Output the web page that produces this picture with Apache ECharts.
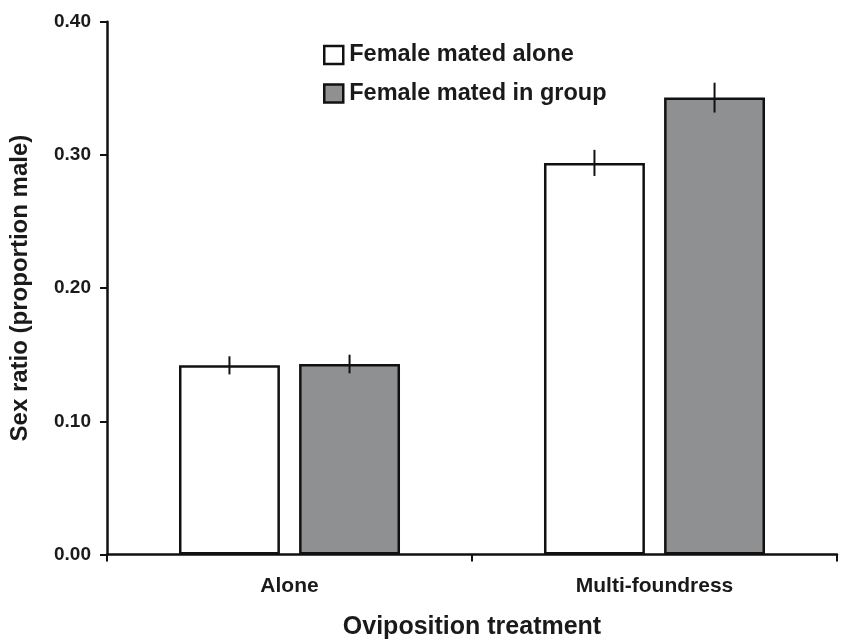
<!DOCTYPE html>
<html>
<head>
<meta charset="utf-8">
<script src="https://cdn.jsdelivr.net/npm/echarts@6/dist/echarts.min.js"></script>
<style>html,body{margin:0;padding:0;background:#fff;}#chart{width:844px;height:639px;}</style>
</head>
<body>
<div id="chart"></div>
<script>
var categories = ['Alone', 'Multi-foundress'];
var seriesNames = ['Female mated alone', 'Female mated in group'];
var aloneMated = [0.142, 0.294];
var groupMated = [0.143, 0.343];
var aloneErr = [0.0068, 0.0098];
var groupErr = [0.0070, 0.0112];
var yTicks = [0, 0.1, 0.2, 0.3, 0.4];

var FONT = '"Liberation Sans", Arial, sans-serif';
var TXT = '#1a1a1a';
var BARW = 0.2765, GAP = 0.19;

function errSeries(name, values, errs, sign) {
  return {
    type: 'custom',
    name: name + ' err',
    silent: true,
    z: 5,
    data: values.map(function (v, i) { return [i, v, errs[i]]; }),
    renderItem: function (params, api) {
      var band = api.size([1, 0])[0];
      var off = sign * band * BARW * (1 + GAP) / 2;
      var c = api.coord([api.value(0), api.value(1)]);
      var hi = api.coord([api.value(0), api.value(1) + api.value(2)]);
      var lo = api.coord([api.value(0), api.value(1) - api.value(2)]);
      return {
        type: 'line',
        shape: { x1: c[0] + off, y1: hi[1], x2: c[0] + off, y2: lo[1] },
        style: { stroke: '#111', lineWidth: 2 }
      };
    }
  };
}

var chart = echarts.init(document.getElementById('chart'));
chart.setOption({
  backgroundColor: '#fff',
  animation: false,
  grid: { left: 107, right: 7, top: 21.7, bottom: 84.5, containLabel: false, outerBoundsMode: 'none' },
  legend: {
    orient: 'vertical',
    left: 318,
    top: 38,
    icon: 'rect',
    itemWidth: 19,
    itemHeight: 18,
    itemGap: 14.5,
    data: seriesNames,
    textStyle: { fontFamily: FONT, fontWeight: 'bold', fontSize: 23.5, lineHeight: 23, color: TXT, padding: [0, 0, 0, 1] },
    itemStyle: { borderColor: '#111', borderWidth: 2.5 }
  },
  xAxis: {
    type: 'category',
    data: categories,
    name: 'Oviposition treatment',
    nameLocation: 'middle',
    nameGap: 60.5,
    nameTextStyle: { fontFamily: FONT, fontWeight: 'bold', fontSize: 25, color: TXT },
    axisLine: { lineStyle: { color: '#111', width: 2.5 } },
    axisTick: { show: true, length: 7, lineStyle: { color: '#111', width: 2 } },
    axisLabel: { margin: 21.5, fontFamily: FONT, fontWeight: 'bold', fontSize: 21, color: TXT },
    splitLine: { show: false }
  },
  yAxis: {
    type: 'value',
    min: yTicks[0],
    max: yTicks[yTicks.length - 1],
    interval: 0.1,
    name: 'Sex ratio (proportion male)',
    nameLocation: 'middle',
    nameGap: 75,
    nameTextStyle: { fontFamily: FONT, fontWeight: 'bold', fontSize: 24, color: TXT },
    axisLine: { show: true, lineStyle: { color: '#111', width: 2.5 } },
    axisTick: { show: true, length: 7, lineStyle: { color: '#111', width: 2 } },
    axisLabel: { margin: 16, fontFamily: FONT, fontWeight: 'bold', fontSize: 19, color: TXT,
      formatter: function (v) { return v.toFixed(2); } },
    splitLine: { show: false }
  },
  series: [
    {
      type: 'bar',
      name: seriesNames[0],
      data: aloneMated,
      barWidth: (BARW * 100) + '%',
      barGap: (GAP * 100) + '%',
      itemStyle: { color: '#ffffff', borderColor: '#111', borderWidth: 2.5 }
    },
    {
      type: 'bar',
      name: seriesNames[1],
      data: groupMated,
      barWidth: (BARW * 100) + '%',
      barGap: (GAP * 100) + '%',
      itemStyle: { color: '#8f9092', borderColor: '#111', borderWidth: 2.5 }
    },
    errSeries(seriesNames[0], aloneMated, aloneErr, -1),
    errSeries(seriesNames[1], groupMated, groupErr, 1)
  ]
});
</script>
</body>
</html>
